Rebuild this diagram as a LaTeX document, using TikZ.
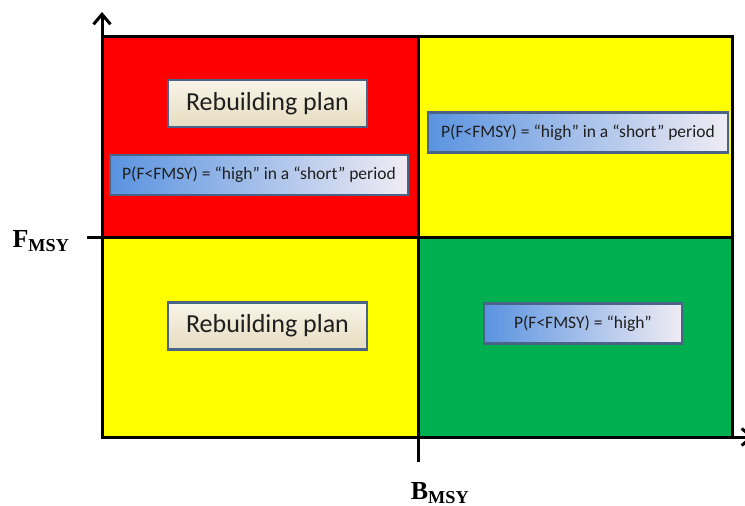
\documentclass[tikz,border=0pt]{standalone}
\usepackage{fontspec}
\setmainfont{Carlito}
\newfontfamily\axisfont{Liberation Serif}
\usetikzlibrary{arrows.meta}
\definecolor{qred}{HTML}{FF0000}
\definecolor{qyellow}{HTML}{FFFF00}
\definecolor{qgreen}{HTML}{00B050}
\definecolor{boxborder}{HTML}{4A6488}
\definecolor{blueL}{HTML}{5A93E0}
\definecolor{blueR}{HTML}{F0ECF4}
\definecolor{creamT}{HTML}{F8F4E8}
\definecolor{creamB}{HTML}{E6DCC0}
\begin{document}
\begin{tikzpicture}[x=1pt,y=-1pt,
  quad/.style={draw=black,line width=3pt},
  planbox/.style={draw=boxborder,line width=2.2pt,top color=creamT,bottom color=creamB,
    minimum width=199pt,minimum height=47pt,inner sep=0pt,font=\fontsize{26}{28}\selectfont,text=black!88},
  probbox/.style={draw=boxborder,line width=2.2pt,left color=blueL,right color=blueR,
    minimum height=40pt,inner sep=0pt,font=\fontsize{17.5}{19}\selectfont,text=black!88},
  axis/.style={line width=3pt,-{Straight Barb[length=10pt,width=17pt,line width=3pt]}},
  axlabel/.style={font=\axisfont\bfseries\fontsize{26}{28}\selectfont}]
\useasboundingbox (0,0) rectangle (745,506);
% quadrants
\fill[qred] (102,36) rectangle (418,237);
\fill[qyellow] (418,36) rectangle (732,237);
\fill[qyellow] (102,237) rectangle (418,437);
\fill[qgreen] (418,237) rectangle (732,437);
\draw[quad] (102,36) rectangle (732,437);
\draw[quad] (418,36) -- (418,437);
\draw[quad] (102,237) -- (732,237);
% axes
\coordinate (o) at (102,437);
\coordinate (ytip) at (102,12);
\coordinate (xtip) at (754,437);
\draw[axis] (o) -- (ytip);
\draw[axis] (o) -- (xtip);
\coordinate (ft0) at (87,237);
\coordinate (ft1) at (102,237);
\draw[line width=3pt] (ft0) -- (ft1);
\coordinate (bt0) at (418,437);
\coordinate (bt1) at (418,462);
\draw[line width=3pt] (bt0) -- (bt1);
\node[axlabel] (fl) at (41,241) {F\textsubscript{MSY}};
\node[axlabel] (bl) at (440,493) {B\textsubscript{MSY}};
% boxes
\node[planbox] (p1) at (267.5,103.5) {Rebuilding plan};
\node[probbox,minimum width=298pt] (q1) at (259,175) {P(F<FMSY) = “high” in a “short” period};
\node[probbox,minimum width=300pt] (q2) at (578,132.5) {P(F<FMSY) = “high” in a “short” period};
\node[planbox] (p2) at (267.5,326) {Rebuilding plan};
\node[probbox,minimum width=198pt] (q3) at (583,323.5) {P(F<FMSY) = “high”};
\end{tikzpicture}
\end{document}
